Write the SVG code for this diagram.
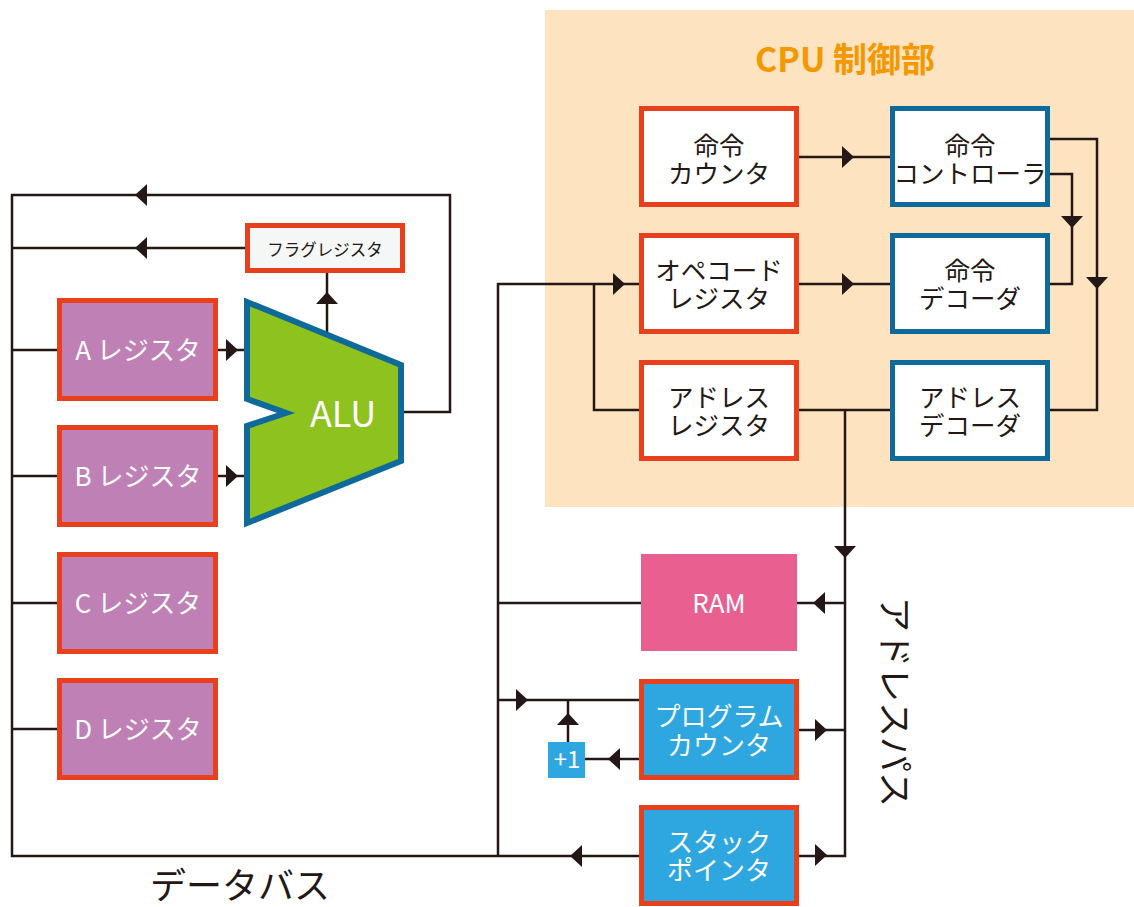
<svg xmlns="http://www.w3.org/2000/svg" xmlns:xlink="http://www.w3.org/1999/xlink" width="1134" height="907" viewBox="0 0 1134 907">
<style>
.ln{fill:none;stroke:#231815;stroke-width:2.5;stroke-linejoin:miter}
.ah{fill:#231815}
.red{stroke:#e8401c;stroke-width:5}
.blue{stroke:#0e6a9a;stroke-width:5}
.wb{fill:#ffffff}
.reg{fill:#bf81b5}
.cy{fill:#2ea7e0}
.t{font-family:"Noto Sans CJK JP","Noto Sans",sans-serif;text-anchor:middle}
.tk{fill:#231815;font-size:25.5px}
.tw{fill:#ffffff;font-size:26px}
</style>
<defs>
<path id="ah" d="M-6,-11 L6,0 L-6,11 Z"/>
</defs>
<rect x="545" y="10" width="589" height="497" fill="#fde3bf"/>
<text class="t" x="845" y="72" font-size="34" font-weight="bold" fill="#f39800">CPU 制御部</text>

<g id="connectors">
<polyline class="ln" points="403,412 450,412 450,195 12,195 12,856 640,856"/>
<line class="ln" x1="247" y1="248" x2="12" y2="248"/>
<line class="ln" x1="327" y1="335" x2="327" y2="272"/>
<line class="ln" x1="12" y1="350" x2="58" y2="350"/>
<line class="ln" x1="12" y1="476" x2="58" y2="476"/>
<line class="ln" x1="12" y1="603" x2="58" y2="603"/>
<line class="ln" x1="12" y1="729" x2="58" y2="729"/>
<line class="ln" x1="217" y1="350" x2="247" y2="350"/>
<line class="ln" x1="217" y1="476" x2="247" y2="476"/>
<polyline class="ln" points="498,856 498,284 640,284"/>
<polyline class="ln" points="594,284 594,410 640,410"/>
<line class="ln" x1="797" y1="157" x2="892" y2="157"/>
<line class="ln" x1="797" y1="284" x2="892" y2="284"/>
<polyline class="ln" points="1048,139 1097,139 1097,410 1048,410"/>
<polyline class="ln" points="1048,174 1072,174 1072,284 1048,284"/>
<line class="ln" x1="797" y1="410" x2="892" y2="410"/>
<polyline class="ln" points="845,410 845,856 797,856"/>
<line class="ln" x1="498" y1="603" x2="641" y2="603"/>
<line class="ln" x1="845" y1="603" x2="797" y2="603"/>
<line class="ln" x1="498" y1="700" x2="640" y2="700"/>
<line class="ln" x1="568" y1="700" x2="568" y2="742"/>
<line class="ln" x1="640" y1="759" x2="585" y2="759"/>
<line class="ln" x1="797" y1="730" x2="845" y2="730"/>
<use href="#ah" class="ah" transform="translate(141,195) rotate(180)"/>
<use href="#ah" class="ah" transform="translate(141,248) rotate(180)"/>
<use href="#ah" class="ah" transform="translate(327,298) rotate(-90)"/>
<use href="#ah" class="ah" transform="translate(232,350)"/>
<use href="#ah" class="ah" transform="translate(232,476)"/>
<use href="#ah" class="ah" transform="translate(619,284)"/>
<use href="#ah" class="ah" transform="translate(848,157)"/>
<use href="#ah" class="ah" transform="translate(848,284)"/>
<use href="#ah" class="ah" transform="translate(1072,222) rotate(90)"/>
<use href="#ah" class="ah" transform="translate(1097,283) rotate(90)"/>
<use href="#ah" class="ah" transform="translate(845,552) rotate(90)"/>
<use href="#ah" class="ah" transform="translate(819,603) rotate(180)"/>
<use href="#ah" class="ah" transform="translate(522,700)"/>
<use href="#ah" class="ah" transform="translate(568,719) rotate(-90)"/>
<use href="#ah" class="ah" transform="translate(614,759) rotate(180)"/>
<use href="#ah" class="ah" transform="translate(821,730)"/>
<use href="#ah" class="ah" transform="translate(821,855)"/>
<use href="#ah" class="ah" transform="translate(576,856) rotate(180)"/>
</g>

<g id="flag-register">
<rect x="247.5" y="225.5" width="155" height="45" fill="#f5f7f6" class="red"/>
<text class="t" x="325" y="256" font-size="16.5" fill="#231815">フラグレジスタ</text>
</g>

<g id="alu">
<polygon points="247,302 401,365 401,461 247,523 247,426 286,413 247,399" fill="#8dc21f" stroke="#0e6a9a" stroke-width="6" stroke-linejoin="miter"/>
<text class="t" x="343" y="427" font-size="36" fill="#ffffff">ALU</text>
</g>

<g id="reg-a">
<rect x="59.5" y="300.5" width="156" height="98" class="reg red"/>
<text class="t tw" x="138" y="360">A レジスタ</text>
</g>
<g id="reg-b">
<rect x="59.5" y="427.5" width="156" height="97" class="reg red"/>
<text class="t tw" x="138" y="486">B レジスタ</text>
</g>
<g id="reg-c">
<rect x="59.5" y="554.5" width="156" height="97" class="reg red"/>
<text class="t tw" x="138" y="613">C レジスタ</text>
</g>
<g id="reg-d">
<rect x="59.5" y="680.5" width="156" height="97" class="reg red"/>
<text class="t tw" x="138" y="739">D レジスタ</text>
</g>

<g id="instr-counter">
<rect x="641.5" y="108.5" width="155" height="96" class="wb red"/>
<text class="t tk" x="719" y="155">命令<tspan x="719" dy="28">カウンタ</tspan></text>
</g>
<g id="instr-controller">
<rect x="892.5" y="108.5" width="155" height="96" class="wb blue"/>
<text class="t tk" x="970" y="155">命令<tspan x="970" dy="28">コントローラ</tspan></text>
</g>
<g id="opcode-register">
<rect x="641.5" y="235.5" width="155" height="96" class="wb red"/>
<text class="t tk" x="719" y="280">オペコード<tspan x="719" dy="28">レジスタ</tspan></text>
</g>
<g id="instr-decoder">
<rect x="892.5" y="235.5" width="155" height="96" class="wb blue"/>
<text class="t tk" x="970" y="280">命令<tspan x="970" dy="28">デコーダ</tspan></text>
</g>
<g id="address-register">
<rect x="641.5" y="362.5" width="155" height="96" class="wb red"/>
<text class="t tk" x="719" y="407">アドレス<tspan x="719" dy="28">レジスタ</tspan></text>
</g>
<g id="address-decoder">
<rect x="892.5" y="362.5" width="155" height="96" class="wb blue"/>
<text class="t tk" x="970" y="407">アドレス<tspan x="970" dy="28">デコーダ</tspan></text>
</g>

<g id="ram">
<rect x="641" y="554" width="156" height="97" fill="#e95f8f"/>
<text class="t" x="719" y="613" font-size="26" fill="#ffffff">RAM</text>
</g>
<g id="program-counter">
<rect x="641.5" y="681.5" width="155" height="96" class="cy red"/>
<text class="t tw" x="719" y="726">プログラム<tspan x="719" dy="29">カウンタ</tspan></text>
</g>
<g id="plus-one">
<rect x="548" y="742" width="37" height="36" class="cy"/>
<text class="t" x="567" y="768" font-size="24" fill="#ffffff">+1</text>
</g>
<g id="stack-pointer">
<rect x="641.5" y="807.5" width="155" height="96" class="cy red"/>
<text class="t tw" x="719" y="852">スタック<tspan x="719" dy="28">ポインタ</tspan></text>
</g>

<text class="t" x="240" y="899" font-size="36" fill="#231815">データバス</text>
<text class="t" transform="translate(895,702) rotate(90)" x="0" y="13" font-size="35" fill="#231815">アドレスパス</text>
</svg>
